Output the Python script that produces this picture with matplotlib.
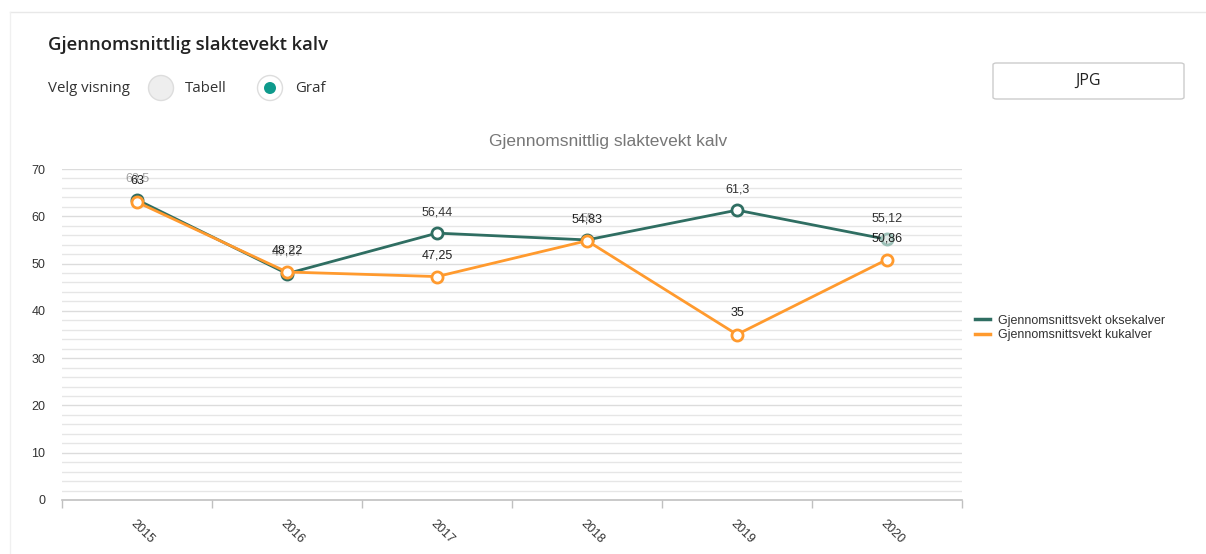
import numpy as np
import matplotlib.pyplot as plt
from matplotlib.patches import Ellipse, FancyBboxPatch
from matplotlib.lines import Line2D

years = ['2015', '2016', '2017', '2018', '2019', '2020']
okse = [63.5, 47.87, 56.44, 55.0, 61.3, 55.12]
ku = [63.0, 48.22, 47.25, 54.83, 35.0, 50.86]
okse_lbl = ['63,5', '47,87', '56,44', '55', '61,3', '55,12']
ku_lbl = ['63', '48,22', '47,25', '54,83', '35', '50,86']
okse_faded = [True, True, False, True, False, False]

green = '#2f6e62'
orange = '#ff9a2e'
W, H = 1206, 554


def fx(px):
    return px / W


def fy(py):
    return 1 - py / H


fig = plt.figure(figsize=(12.06, 5.54), dpi=100)
fig.patch.set_facecolor('white')

# card border
fig.add_artist(Line2D([fx(10), 1], [fy(12), fy(12)], color='#e8e8e8', lw=1))
fig.add_artist(Line2D([fx(10), fx(10)], [fy(12), 0], color='#f0f0f0', lw=1))

ui = ['Open Sans', 'DejaVu Sans']
fig.text(fx(48), fy(45), 'Gjennomsnittlig slaktevekt kalv', family=ui, fontsize=13.3,
         fontweight='semibold', color='#222222', va='center')
fig.text(fx(48), fy(88), 'Velg visning', family=ui, fontsize=10.8, color='#333333', va='center')
fig.add_artist(Ellipse((fx(161), fy(88)), 25 / W, 25 / H, facecolor='#eeeeee',
                       edgecolor='#dddddd', lw=1))
fig.text(fx(185), fy(88), 'Tabell', family=ui, fontsize=10.8, color='#333333', va='center')
fig.add_artist(Ellipse((fx(270), fy(88)), 25 / W, 25 / H, facecolor='white',
                       edgecolor='#dddddd', lw=1))
fig.add_artist(Ellipse((fx(270), fy(88)), 12 / W, 12 / H, facecolor='#0e9a8c',
                       edgecolor='none'))
fig.text(fx(295), fy(88), 'Graf', family=ui, fontsize=10.8, color='#333333', va='center')

fig.add_artist(FancyBboxPatch((fx(993), fy(99)), fx(191), 36 / H,
                              boxstyle='round,pad=0,rounding_size=0.003',
                              facecolor='white', edgecolor='#cccccc', lw=1))
fig.text(fx(1088), fy(81), 'JPG', family=ui, fontsize=11.5, color='#222222',
         ha='center', va='center')

fig.text(fx(608), fy(141), 'Gjennomsnittlig slaktevekt kalv', family='Liberation Sans',
         fontsize=12.5, color='#777777', ha='center', va='center')

ax = fig.add_axes([fx(62), fy(500), fx(900), 331 / H])
x = np.arange(len(years))

ax.set_ylim(0, 70)
ax.set_xlim(-0.5, len(years) - 0.5)
for v in np.arange(2, 71, 2):
    ax.axhline(v, color='#e6e6e6' if v % 10 else '#dcdcdc', lw=1, zorder=1)

ax.plot(x, okse, color=green, lw=2, zorder=3)
ax.plot(x[:-1], okse[:-1], ls='none', marker='o', ms=8, mfc='white', mec=green, mew=2,
        zorder=3)
ax.plot(x[-1:], okse[-1:], ls='none', marker='o', ms=8, mfc='#dfe9e6', mec='#9cc0b7',
        mew=2, zorder=3)
ax.plot(x, ku, color=orange, lw=2, marker='o', ms=8, mfc='white', mec=orange, mew=2,
        zorder=4)

lf = dict(family='Liberation Sans', fontsize=9, ha='center', va='center',
          textcoords='offset pixels')
for i in x:
    ax.annotate(okse_lbl[i], (i, okse[i]), xytext=(0, 21), color='#333333',
                alpha=0.45 if okse_faded[i] else 1, zorder=5, **lf)
    ax.annotate(ku_lbl[i], (i, ku[i]), xytext=(0, 21), color='#222222', zorder=6, **lf)

for s in ['top', 'right', 'left']:
    ax.spines[s].set_visible(False)
ax.spines['bottom'].set_color('#c0c0c0')
ax.spines['bottom'].set_linewidth(1.2)

ax.set_yticks(np.arange(0, 71, 10))
ax.set_yticklabels([str(v) for v in range(0, 71, 10)], family='Liberation Sans',
                   fontsize=9, color='#333333')
ax.tick_params(axis='y', length=0, pad=12)

ax.set_xticks(np.arange(-0.5, len(years), 1))
ax.set_xticklabels([])
ax.tick_params(axis='x', length=6, color='#c0c0c0', width=1)
ax.set_xticks(x, minor=True)
ax.set_xticklabels(years, minor=True, rotation=-45, ha='left', va='top',
                   rotation_mode='anchor', family='Liberation Sans', fontsize=9,
                   color='#333333')
ax.tick_params(axis='x', which='minor', length=0, pad=13)

handles = [Line2D([], [], color=green, lw=2.5), Line2D([], [], color=orange, lw=2.5)]
ax.legend(handles, ['Gjennomsnittsvekt oksekalver', 'Gjennomsnittsvekt kukalver'],
          loc='center left', bbox_to_anchor=(fx(964), fy(328)),
          bbox_transform=fig.transFigure, frameon=False, handlelength=1.2,
          handletextpad=0.6, labelspacing=0.2,
          prop={'family': 'Liberation Sans', 'size': 9}, labelcolor='#333333')

fig.savefig('out.png', dpi=100)
